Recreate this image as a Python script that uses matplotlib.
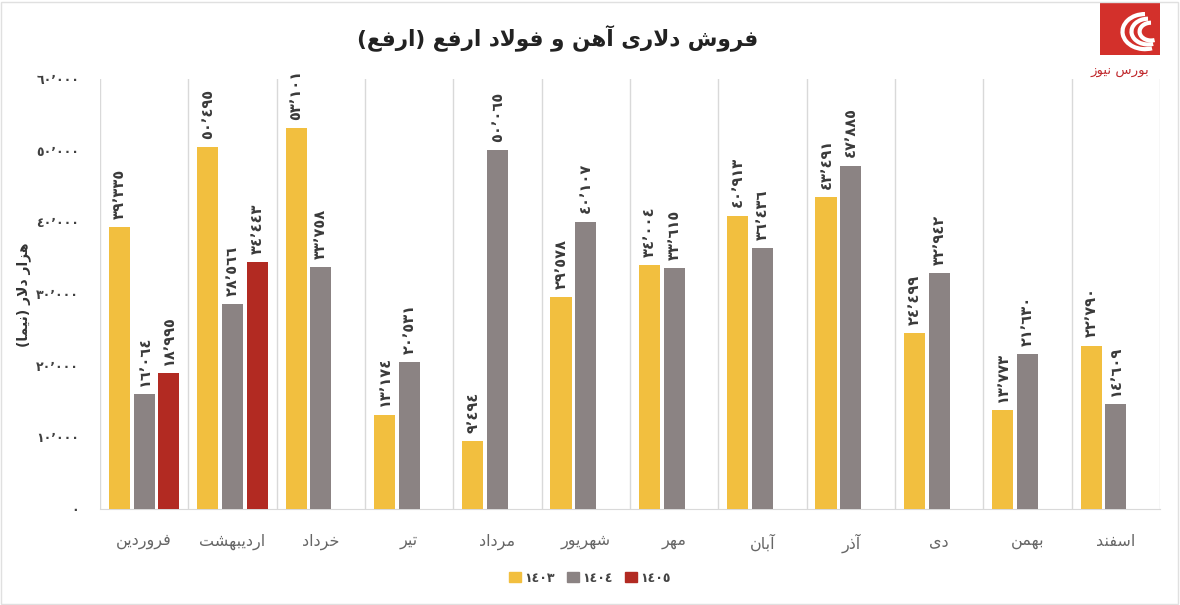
import matplotlib
matplotlib.use("Agg")
import matplotlib.pyplot as plt
import numpy as np
from matplotlib.patches import Rectangle, Arc

# months of the Persian year (logical order, left to right on the chart)
months = ["فروردین", "اردیبهشت", "خرداد", "تیر", "مرداد", "شهریور",
          "مهر", "آبان", "آذر", "دی", "بهمن", "اسفند"]

# dollar sales, thousand dollars (NIMA)
sales_1403 = [39335, 50495, 53101, 13174, 9494, 29578, 34004, 40913, 43491, 24499, 13773, 22790]
sales_1404 = [16064, 28566, 33758, 20531, 50065, 40107, 33615, 36436, 47885, 32942, 21630, 14609]
sales_1405 = [18995, 34443]

series_names = ["1403", "1404", "1405"]
yticks = [0, 10000, 20000, 30000, 40000, 50000, 60000]

title = "فروش دلاری آهن و فولاد ارفع (ارفع)"
ylabel = "هزار دلار (نیما)"
logo_text = "بورس نیوز"

# ---- minimal arabic shaping: matplotlib has no complex text layout ----
# letter: (isolated, final, initial, medial); initial None -> right joining only
FORMS = {
    "ا": (0xFE8D, 0xFE8E, None, None),
    "آ": (0xFE81, 0xFE82, None, None),
    "ب": (0xFE8F, 0xFE90, 0xFE91, 0xFE92),
    "ت": (0xFE95, 0xFE96, 0xFE97, 0xFE98),
    "خ": (0xFEA5, 0xFEA6, 0xFEA7, 0xFEA8),
    "د": (0xFEA9, 0xFEAA, None, None),
    "ذ": (0xFEAB, 0xFEAC, None, None),
    "ر": (0xFEAD, 0xFEAE, None, None),
    "ز": (0xFEAF, 0xFEB0, None, None),
    "س": (0xFEB1, 0xFEB2, 0xFEB3, 0xFEB4),
    "ش": (0xFEB5, 0xFEB6, 0xFEB7, 0xFEB8),
    "ع": (0xFEC9, 0xFECA, 0xFECB, 0xFECC),
    "ف": (0xFED1, 0xFED2, 0xFED3, 0xFED4),
    "ل": (0xFEDD, 0xFEDE, 0xFEDF, 0xFEE0),
    "م": (0xFEE1, 0xFEE2, 0xFEE3, 0xFEE4),
    "ن": (0xFEE5, 0xFEE6, 0xFEE7, 0xFEE8),
    "ه": (0xFEE9, 0xFEEA, 0xFEEB, 0xFEEC),
    "و": (0xFEED, 0xFEEE, None, None),
    "ی": (0xFEEF, 0xFEF0, 0xFEF3, 0xFEF4),
}
MIRROR = {"(": ")", ")": "("}


def fa(text):
    out = []
    prev_joins = False
    i = 0
    while i < len(text):
        c = text[i]
        nxt = text[i + 1] if i + 1 < len(text) else ""
        if c == "ل" and nxt in ("ا", "آ"):
            if nxt == "ا":
                g = 0xFEFC if prev_joins else 0xFEFB
            else:
                g = 0xFEF6 if prev_joins else 0xFEF5
            out.append(chr(g))
            prev_joins = False
            i += 2
            continue
        if c in FORMS:
            iso, fin, ini, med = FORMS[c]
            dual = ini is not None
            joins_next = dual and nxt in FORMS
            if prev_joins and joins_next:
                g = med
            elif prev_joins:
                g = fin
            elif joins_next:
                g = ini
            else:
                g = iso
            out.append(chr(g))
            prev_joins = dual
        else:
            out.append(MIRROR.get(c, c))
            prev_joins = False
        i += 1
    return "".join(reversed(out))


DIGITS = str.maketrans("0123456789", "٠١٢٣٤٥٦٧٨٩")


def ar_num(v):
    return f"{v:,}".replace(",", "٬").translate(DIGITS)


# ---- figure ----
plt.rcParams["font.family"] = ["DejaVu Sans"]
fig = plt.figure(figsize=(11.8, 6.05), dpi=100)
ax = fig.add_axes([100 / 1180, 1 - 509 / 605, 1060 / 1180, 430 / 605])

colors = ["#F2BF3F", "#8B8383", "#B22A22"]
offsets = [-0.28, 0.0, 0.28]
width = 0.24
x = np.arange(len(months))

for vals, off, col in zip([sales_1403, sales_1404, sales_1405], offsets, colors):
    xs = x[:len(vals)] + off
    ax.bar(xs, vals, width, color=col, zorder=3)
    for xi, v in zip(xs, vals):
        ax.annotate(ar_num(v), (xi, v), xytext=(0, 6), textcoords="offset points",
                    rotation=90, ha="center", va="bottom", fontsize=10.5,
                    fontweight="bold", color="#3a3a3a")

ax.set_xlim(-0.5, len(months) - 0.5)
ax.set_ylim(0, 60000)
ax.set_yticks(yticks)
ax.set_yticklabels([ar_num(t) for t in yticks], fontsize=9, fontweight="bold", color="#404040")
ax.set_xticks(x)
ax.set_xticklabels([fa(m) for m in months], fontsize=11.5, color="#666666")
ax.tick_params(axis="both", length=0)
ax.tick_params(axis="y", pad=15)
ax.tick_params(axis="x", pad=18)

ax.set_xticks(np.arange(-0.5, len(months)), minor=True)
ax.tick_params(axis="x", which="minor", length=0)
ax.grid(axis="x", which="minor", color="#d9d9d9", linewidth=1, zorder=0)
for s in ["top", "right", "left"]:
    ax.spines[s].set_visible(False)
ax.spines["bottom"].set_color("#d9d9d9")

fig.text(24 / 1180, 1 - 295 / 605, fa(ylabel), rotation=90, ha="center", va="center",
         fontsize=10, fontweight="bold", color="#333333")
fig.text(558 / 1180, 1 - 38 / 605, fa(title), ha="center", va="center",
         fontsize=15.5, fontweight="bold", color="#222222")

# legend
handles = [Rectangle((0, 0), 1, 1, color=c) for c in colors]
fig.legend(handles, [n.translate(DIGITS) for n in series_names], loc="center",
           bbox_to_anchor=(590 / 1180, 1 - 578 / 605), ncol=3, frameon=False,
           handlelength=0.9, handleheight=0.9, handletextpad=0.3, columnspacing=1.0,
           prop={"size": 9, "weight": "bold"}, labelcolor="#444444")

# logo (top right)
lax = fig.add_axes([1100 / 1180, 1 - 55 / 605, 60 / 1180, 52 / 605])
lax.set_xlim(0, 1)
lax.set_ylim(0, 1)
lax.axis("off")
lax.add_patch(Rectangle((0, 0), 1, 1, color="#D3302B"))
for r, cx in [(0.75, 0.75), (0.55, 0.8), (0.38, 0.85)]:
    lax.add_patch(Arc((cx, 0.45), r, r * 0.9, theta1=90, theta2=290, color="white", lw=3))
fig.text(1120 / 1180, 1 - 72 / 605, fa(logo_text), ha="center", va="center",
         fontsize=9.5, color="#C0282C")

# light frame around the picture
fig.patches.append(Rectangle((0.001, 0.002), 0.997, 0.995, transform=fig.transFigure,
                             fill=False, edgecolor="#e0e0e0", lw=1))

fig.savefig("out.png", dpi=100)
